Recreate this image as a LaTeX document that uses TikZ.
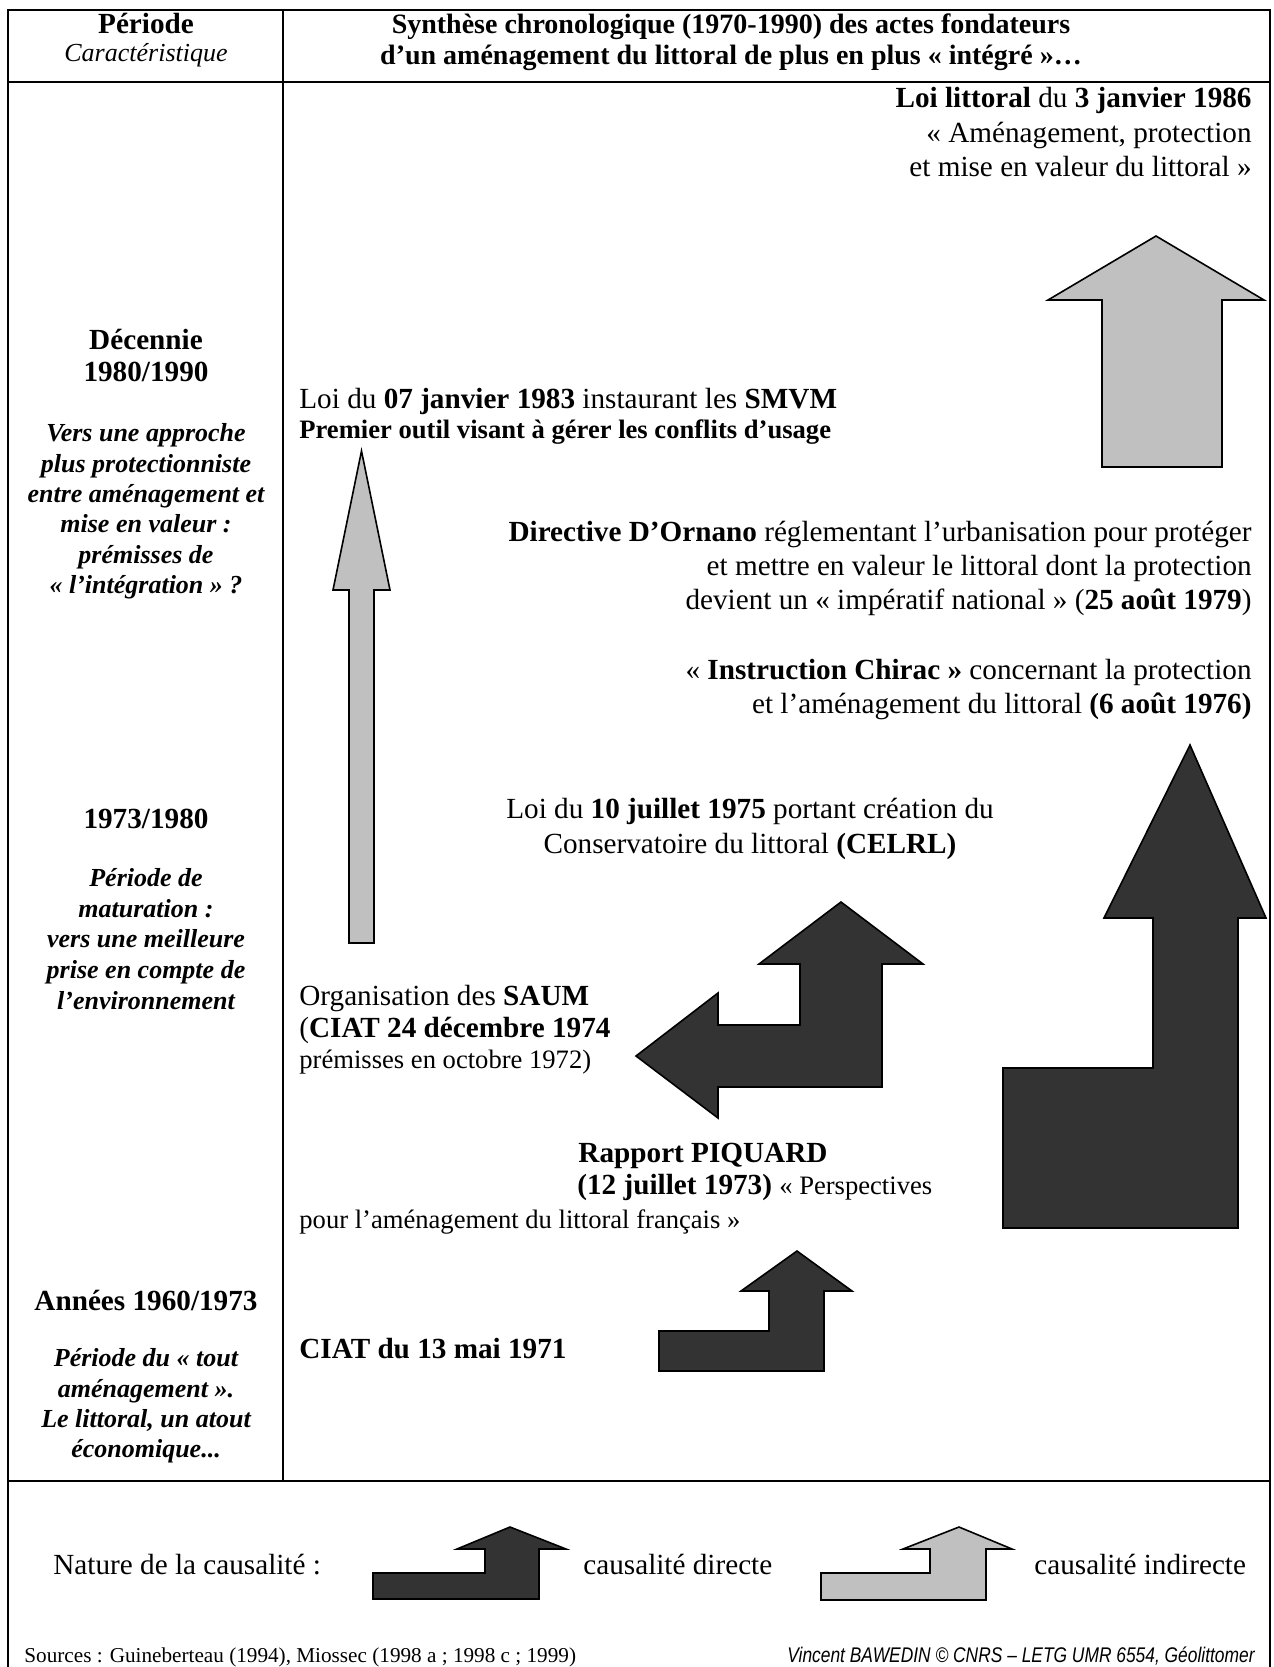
\documentclass[tikz,border=0pt]{standalone}
\usepackage{fontspec}
\setmainfont{Liberation Serif}
\newfontfamily\footsans{Liberation Sans}
\newcommand\fmain{\fontsize{14.6}{17.5}\selectfont}
\newcommand\ftitle{\fontsize{14.0}{17}\selectfont}
\newcommand\fsmall{\fontsize{13.3}{16}\selectfont}
\newcommand\fleft{\fontsize{13}{15.5}\selectfont}
\newcommand\ffoot{\fontsize{10.6}{12.5}\selectfont}
\definecolor{darkfill}{HTML}{333333}
\definecolor{lightfill}{HTML}{C0C0C0}
\begin{document}
\begin{tikzpicture}[x=0.5pt,y=-0.5pt,
  frame/.style={line width=1.3pt},
  dark/.style={draw=black,line width=0.8pt,fill=darkfill,line join=miter},
  light/.style={draw=black,line width=0.8pt,fill=lightfill,line join=miter},
  txt/.style={inner sep=0pt,font=\fmain},
  sml/.style={inner sep=0pt,font=\fsmall},
  hb/.style={inner sep=0pt,font=\fmain\bfseries,anchor=mid},
  li/.style={inner sep=0pt,font=\fleft\bfseries\itshape,anchor=mid}]
\path[use as bounding box] (0,0) rectangle (1274,1667);
\fill[white] (0,0) rectangle (1274,1667);
% frame
\draw[frame] (8,1667) -- (8,10) -- (1270,10) -- (1270,1667);
\draw[frame] (8,82) -- (1270,82);
\draw[frame] (283,10) -- (283,1481);
\draw[frame] (8,1481) -- (1270,1481);
% header
\node[hb] (hP) at (146,29) {Période};
\node[inner sep=0pt,font=\fontsize{13}{15}\selectfont\itshape,anchor=mid] (hC) at (146,57) {Caractéristique};
\node[inner sep=0pt,font=\ftitle\bfseries,anchor=mid] (t1) at (731,29) {Synthèse chronologique (1970-1990) des actes fondateurs};
\node[inner sep=0pt,font=\ftitle\bfseries,anchor=mid] (t2) at (731,60) {d’un aménagement du littoral de plus en plus « intégré »…};
% left column
\node[hb] (d1) at (146,345) {Décennie};
\node[hb] (d2) at (146,377) {1980/1990};
\node[li] (d3) at (146,437) {Vers une approche};
\node[li] (d4) at (146,468) {plus protectionniste};
\node[li] (d5) at (146,498) {entre aménagement et};
\node[li] (d6) at (146,528) {mise en valeur :};
\node[li] (d7) at (146,559) {prémisses de};
\node[li] (d8) at (146,589) {« l’intégration » ?};
\node[hb] (m1) at (146,824) {1973/1980};
\node[li] (m2) at (146,882) {Période de};
\node[li] (m3) at (146,913) {maturation :};
\node[li] (m4) at (146,943) {vers une meilleure};
\node[li] (m5) at (146,974) {prise en compte de};
\node[li] (m6) at (146,1005) {l’environnement};
\node[hb] (a1) at (146,1306) {Années 1960/1973};
\node[li] (a2) at (146,1362) {Période du « tout};
\node[li] (a3) at (146,1393) {aménagement ».};
\node[li] (a4) at (146,1423) {Le littoral, un atout};
\node[li] (a5) at (146,1453) {économique...};
% right column texts
\node[txt,anchor=mid east] (ll1) at (1252,103) {\textbf{Loi littoral} du \textbf{3 janvier 1986}};
\node[txt,anchor=mid east] (ll2) at (1252,138) {« Aménagement, protection};
\node[txt,anchor=mid east] (ll3) at (1252,172) {et mise en valeur du littoral »};
\node[txt,anchor=mid west] (s1) at (299,404) {Loi du \textbf{07 janvier 1983} instaurant les \textbf{SMVM}};
\node[sml,anchor=mid west,font=\fsmall\bfseries] (s2) at (299,434) {Premier outil visant à gérer les conflits d’usage};
\node[txt,anchor=mid east] (o1) at (1252,537) {\textbf{Directive D’Ornano} réglementant l’urbanisation pour protéger};
\node[txt,anchor=mid east] (o2) at (1252,571) {et mettre en valeur le littoral dont la protection};
\node[txt,anchor=mid east] (o3) at (1252,605) {devient un « impératif national » (\textbf{25 août 1979})};
\node[txt,anchor=mid east] (c1) at (1252,675) {« \textbf{Instruction Chirac »} concernant la protection};
\node[txt,anchor=mid east] (c2) at (1252,709) {et l’aménagement du littoral \textbf{(6 août 1976)}};
\node[txt,anchor=mid] (k1) at (750,814) {Loi du \textbf{10 juillet 1975} portant création du};
\node[txt,anchor=mid] (k2) at (750,849) {Conservatoire du littoral \textbf{(CELRL)}};
\node[txt,anchor=mid west] (u1) at (299,1001) {Organisation des \textbf{SAUM}};
\node[txt,anchor=mid west] (u2) at (299,1033) {(\textbf{CIAT 24 décembre 1974}};
\node[sml,anchor=mid west] (u3) at (299,1064) {prémisses en octobre 1972)};
\node[hb] (p1) at (703,1158) {Rapport PIQUARD};
\node[txt,anchor=mid west] (p2) at (577,1190) {\textbf{(12 juillet 1973)} {\fsmall « Perspectives}};
\node[sml,anchor=mid west] (p3) at (299,1224) {pour l’aménagement du littoral français »};
\node[txt,anchor=mid west,font=\fmain\bfseries] (ciat) at (299,1354) {CIAT du 13 mai 1971};
% arrows
\draw[light] (1156,236) -- (1264,300) -- (1222,300) -- (1222,467) -- (1102,467) -- (1102,300) -- (1048,300) -- cycle;
\draw[light] (361.5,451) -- (390,590) -- (374,590) -- (374,943) -- (349,943) -- (349,590) -- (333,590) -- cycle;
\draw[dark] (1190,745) -- (1266,918) -- (1238,918) -- (1238,1228) -- (1003,1228) -- (1003,1068) -- (1153,1068) -- (1153,918) -- (1104,918) -- cycle;
\draw[dark] (636,1056) -- (718,993) -- (718,1025) -- (800,1025) -- (800,964) -- (759,964) -- (841,902) -- (923,964) -- (882,964) -- (882,1087) -- (718,1087) -- (718,1118) -- cycle;
\draw[dark] (797,1251) -- (852,1291) -- (824,1291) -- (824,1371) -- (659,1371) -- (659,1331) -- (769,1331) -- (769,1291) -- (741,1291) -- cycle;
% legend
\node[txt,anchor=mid west] (lg) at (53,1570) {Nature de la causalité :};
\draw[dark] (510,1527) -- (566,1549) -- (539,1549) -- (539,1599) -- (373,1599) -- (373,1573) -- (485,1573) -- (485,1549) -- (457,1549) -- cycle;
\node[txt,anchor=mid west] (lgd) at (583,1570) {causalité directe};
\draw[light] (959,1527) -- (1012,1549) -- (986,1549) -- (986,1600) -- (821,1600) -- (821,1573) -- (930,1573) -- (930,1549) -- (903,1549) -- cycle;
\node[txt,anchor=mid west] (lgi) at (1034,1570) {causalité indirecte};
% footer
\node[inner sep=0pt,anchor=mid west,font=\ffoot] (src) at (24,1658) {Sources : Guineberteau (1994), Miossec (1998 a ; 1998 c ; 1999)};
\node[inner sep=0pt,anchor=mid east] (auth) at (1255,1658) {\scalebox{0.82}[1]{\footsans\itshape\fontsize{10.6}{12.5}\selectfont Vincent BAWEDIN © CNRS – LETG UMR 6554, Géolittomer}};
\end{tikzpicture}
\end{document}
